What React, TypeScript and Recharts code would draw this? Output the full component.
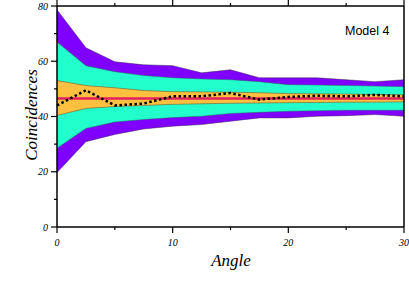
import {
  Area,
  ComposedChart,
  Line,
  XAxis,
  YAxis,
} from "recharts";

const angles = [0, 2.5, 5, 7.5, 10, 12.5, 15, 17.5, 20, 22.5, 25, 27.5, 30];
const purpleHigh = [78.6, 64.9, 59.8, 58.7, 58.4, 55.8, 56.9, 54.0, 54.0, 54.0, 53.3, 52.6, 53.3];
const aquaHigh = [67.0, 58.4, 56.2, 54.8, 54.0, 53.6, 53.3, 52.6, 51.5, 51.4, 51.2, 51.0, 50.8];
const orangeHigh = [53.0, 51.2, 50.4, 49.4, 49.0, 48.9, 48.8, 48.6, 48.3, 48.2, 48.1, 48.0, 47.9];
const orangeLow = [40.4, 42.9, 43.6, 44.0, 44.4, 44.6, 44.8, 44.9, 45.0, 45.1, 45.2, 45.2, 45.3];
const aquaLow = [28.5, 35.7, 38.0, 38.9, 39.6, 40.1, 41.1, 41.5, 41.9, 42.1, 42.3, 42.3, 42.3];
const purpleLow = [19.7, 30.9, 33.5, 35.5, 36.5, 37.1, 38.3, 39.5, 39.5, 40.1, 40.3, 40.7, 40.1];
const expected = [46.5, 46.5, 46.5, 46.5, 46.5, 46.5, 46.5, 46.5, 46.5, 46.5, 46.5, 46.5, 46.5];
const measured = [44.0, 49.5, 44.0, 44.7, 47.3, 47.3, 48.5, 46.1, 47.1, 47.5, 47.3, 47.8, 47.3];

const xTicks = [0, 5, 10, 15, 20, 25, 30];
const yTicks = [0, 10, 20, 30, 40, 50, 60, 70, 80];

const data = angles.map((a, i) => ({
  angle: a,
  purple: [purpleLow[i], purpleHigh[i]],
  aqua: [aquaLow[i], aquaHigh[i]],
  orange: [orangeLow[i], orangeHigh[i]],
  expected: expected[i],
  measured: measured[i],
}));

const SERIF = "'Liberation Serif', 'DejaVu Serif', serif";

// ticks drawn by hand so majors are longer and only majors get labels
function makeTick(side: "bottom" | "top" | "left" | "right", major: number) {
  return (props: any) => {
    const { x, y, payload } = props;
    const isMajor = payload.value % major === 0;
    const len = isMajor ? 6 : 3;
    if (side === "bottom" || side === "top") {
      const dir = side === "bottom" ? 1 : -1;
      return (
        <g>
          <line x1={x} y1={y} x2={x} y2={y + dir * len} stroke="#000" strokeWidth={1.2} />
          {side === "bottom" && isMajor && (
            <text x={x} y={y + 19} textAnchor="middle" fontFamily={SERIF} fontStyle="italic" fontSize={10} fill="#000">
              {payload.value}
            </text>
          )}
        </g>
      );
    }
    const dir = side === "left" ? -1 : 1;
    return (
      <g>
        <line x1={x} y1={y} x2={x + dir * len} y2={y} stroke="#000" strokeWidth={1.2} />
        {side === "left" && isMajor && (
          <text x={x - 9} y={y + 3.5} textAnchor="end" fontFamily={SERIF} fontStyle="italic" fontSize={10} fill="#000">
            {payload.value}
          </text>
        )}
      </g>
    );
  };
}

export default function App() {
  return (
    <div style={{ position: "absolute", left: 0, top: 0, width: 409, height: 300 }}>
      <ComposedChart
        width={409}
        height={300}
        data={data}
        margin={{ top: 5, right: 4, bottom: 0, left: 0 }}
      >
        <XAxis
          dataKey="angle"
          type="number"
          domain={[0, 30]}
          ticks={xTicks}
          interval={0}
          height={73}
          tickSize={0}
          tickMargin={0}
          tick={makeTick("bottom", 10)}
          axisLine={{ stroke: "#000", strokeWidth: 1.5 }}
          label={() => (
            <text x={231} y={266} textAnchor="middle" fontFamily={SERIF} fontStyle="italic" fontSize={17} fill="#000">
              Angle
            </text>
          )}
        />
        <XAxis
          xAxisId="top"
          orientation="top"
          dataKey="angle"
          type="number"
          domain={[0, 30]}
          ticks={xTicks}
          interval={0}
          height={1}
          tickSize={0}
          tickMargin={0}
          tick={makeTick("top", 10)}
          axisLine={{ stroke: "#000", strokeWidth: 1.5 }}
        />
        <YAxis
          type="number"
          domain={[0, 80]}
          ticks={yTicks}
          interval={0}
          width={57}
          tickSize={0}
          tickMargin={0}
          tick={makeTick("left", 20)}
          axisLine={{ stroke: "#000", strokeWidth: 1.5 }}
          label={() => (
            <text
              x={31}
              y={115}
              transform="rotate(-90 31 115)"
              textAnchor="middle"
              dominantBaseline="central"
              fontFamily={SERIF}
              fontStyle="italic"
              fontSize={17}
              fill="#000"
            >
              Coincidences
            </text>
          )}
        />
        <YAxis
          yAxisId="right"
          orientation="right"
          type="number"
          domain={[0, 80]}
          ticks={yTicks}
          interval={0}
          width={1}
          tickSize={0}
          tickMargin={0}
          tick={makeTick("right", 20)}
          axisLine={{ stroke: "#000", strokeWidth: 1.5 }}
        />
        <Area
          type="linear"
          dataKey="purple"
          fill="#7f00ff"
          fillOpacity={1}
          stroke="#3a2a55"
          strokeWidth={0.5}
          isAnimationActive={false}
        />
        <Area
          type="linear"
          dataKey="aqua"
          fill="#22ffcc"
          fillOpacity={1}
          stroke="#2c6b5c"
          strokeWidth={0.5}
          isAnimationActive={false}
        />
        <Area
          type="linear"
          dataKey="orange"
          fill="#ffc040"
          fillOpacity={1}
          stroke="#6b5a30"
          strokeWidth={0.6}
          isAnimationActive={false}
        />
        <Line
          type="linear"
          dataKey="expected"
          stroke="#e0205f"
          strokeWidth={2.5}
          dot={false}
          isAnimationActive={false}
        />
        <Line
          type="linear"
          dataKey="measured"
          stroke="#000"
          strokeWidth={2.5}
          strokeDasharray="2.5 2.5"
          dot={false}
          isAnimationActive={false}
        />
      </ComposedChart>
      <div
        style={{
          position: "absolute",
          left: 345,
          top: 25,
          fontFamily: "'Liberation Sans', Arial, sans-serif",
          fontSize: 12.5,
          lineHeight: "13px",
          color: "#000",
          whiteSpace: "nowrap",
        }}
      >
        Model 4
      </div>
    </div>
  );
}
